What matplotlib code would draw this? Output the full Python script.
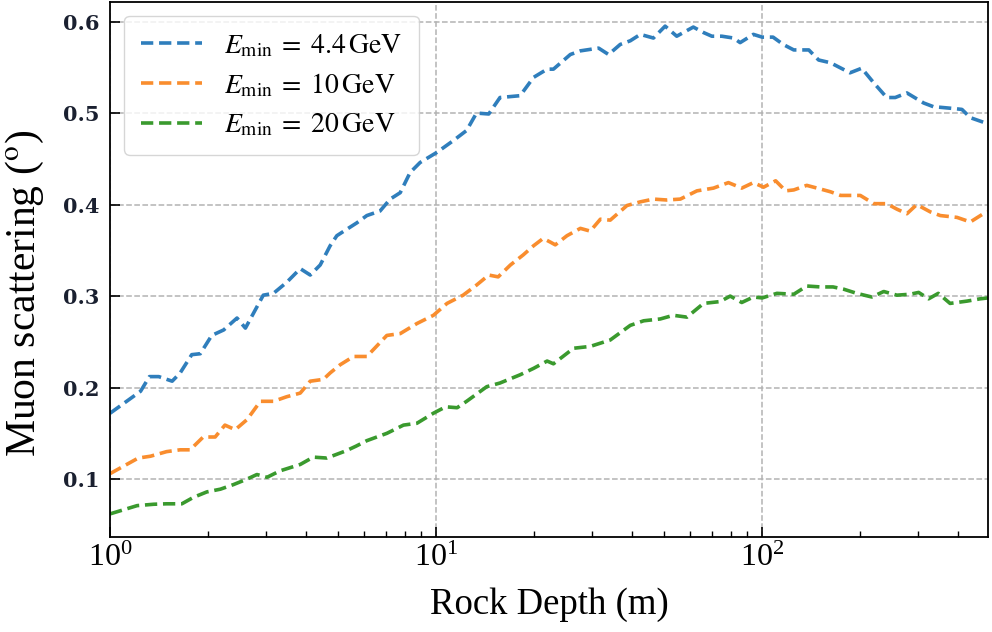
import numpy as np
import matplotlib
matplotlib.use("Agg")
import matplotlib.pyplot as plt

# rock depth (m) and muon scattering angle (deg) for each minimum energy
depth_44 = [1.0, 1.24, 1.32, 1.41, 1.55, 1.64, 1.78, 1.89, 2.05, 2.23, 2.45, 2.6,
            2.95, 3.17, 3.48, 3.83, 4.11, 4.41, 4.73, 4.96, 5.32, 5.71, 6.13, 6.73,
            7.23, 7.76, 8.32, 8.93, 10.05, 11.3, 12.4, 13.3, 14.5, 15.7, 18.1, 19.9,
            21.9, 22.9, 25.8, 27.7, 31.5, 33.8, 36.7, 39.4, 42.3, 46.4, 50.4, 54.7,
            61.5, 66.1, 70.1, 75.2, 81.7, 85.6, 94.0, 100, 108, 116, 125, 139,
            149, 162, 186, 202, 220, 241, 256, 278, 313, 335, 386, 410,
            435, 477, 493]
scat_44 = [0.172, 0.196, 0.212, 0.212, 0.207, 0.216, 0.236, 0.237, 0.257, 0.263, 0.276, 0.265,
           0.301, 0.303, 0.315, 0.330, 0.323, 0.334, 0.355, 0.366, 0.373, 0.380, 0.388, 0.393,
           0.406, 0.413, 0.435, 0.446, 0.457, 0.470, 0.481, 0.500, 0.499, 0.517, 0.519, 0.539,
           0.548, 0.548, 0.564, 0.568, 0.571, 0.564, 0.575, 0.579, 0.586, 0.582, 0.595, 0.584,
           0.594, 0.588, 0.584, 0.584, 0.582, 0.577, 0.586, 0.583, 0.583, 0.575, 0.569, 0.569,
           0.558, 0.555, 0.544, 0.549, 0.533, 0.517, 0.517, 0.522, 0.511, 0.507, 0.505, 0.504,
           0.495, 0.490, 0.489]

depth_10 = [1.0, 1.22, 1.33, 1.49, 1.64, 1.76, 1.93, 2.1, 2.25, 2.42, 2.63, 2.89,
            3.17, 3.48, 3.83, 4.11, 4.51, 4.73, 5.08, 5.58, 6.13, 7.06, 7.76, 8.73,
            9.81, 10.8, 12.1, 13.3, 14.5, 15.5, 16.9, 18.5, 19.9, 21.3, 22.4, 23.2,
            25.2, 27.7, 29.7, 31.9, 34.2, 38.5, 42.3, 46.4, 51.0, 56.1, 63.1, 70.9,
            78.8, 86.6, 94.0, 101, 110, 118, 125, 137, 151, 162, 174, 200,
            220, 241, 259, 278, 298, 328, 352, 396, 435, 477, 493]
scat_10 = [0.106, 0.123, 0.125, 0.130, 0.132, 0.132, 0.146, 0.146, 0.159, 0.154, 0.165, 0.185,
           0.185, 0.190, 0.194, 0.207, 0.209, 0.216, 0.225, 0.234, 0.234, 0.257, 0.259, 0.270,
           0.279, 0.292, 0.301, 0.312, 0.323, 0.321, 0.334, 0.345, 0.355, 0.363, 0.359, 0.356,
           0.366, 0.374, 0.371, 0.384, 0.383, 0.399, 0.403, 0.406, 0.405, 0.406, 0.415, 0.418,
           0.424, 0.418, 0.424, 0.419, 0.426, 0.415, 0.416, 0.421, 0.417, 0.414, 0.410, 0.410,
           0.401, 0.401, 0.395, 0.390, 0.400, 0.392, 0.388, 0.386, 0.381, 0.390, 0.392]

depth_20 = [1.0, 1.21, 1.36, 1.49, 1.66, 1.8, 1.98, 2.18, 2.39, 2.63, 2.82, 3.03,
            3.32, 3.83, 4.2, 4.62, 5.3, 5.68, 6.13, 7.06, 7.94, 8.73, 9.81, 10.7,
            11.6, 12.4, 14.3, 15.7, 18.1, 19.9, 21.9, 22.9, 26.4, 29.7, 34.2, 39.4,
            43.3, 48.7, 53.4, 58.8, 66.1, 74.3, 79.8, 86.6, 94.0, 100, 111, 125,
            137, 151, 165, 178, 195, 217, 236, 259, 284, 302, 324, 347,
            377, 425, 466, 493]
scat_20 = [0.062, 0.071, 0.0725, 0.073, 0.073, 0.080, 0.086, 0.089, 0.094, 0.100, 0.105, 0.102,
           0.109, 0.116, 0.124, 0.123, 0.131, 0.136, 0.142, 0.150, 0.159, 0.161, 0.172, 0.179,
           0.178, 0.185, 0.201, 0.205, 0.214, 0.221, 0.229, 0.226, 0.243, 0.245, 0.252, 0.268,
           0.273, 0.275, 0.279, 0.277, 0.292, 0.294, 0.300, 0.293, 0.299, 0.298, 0.303, 0.302,
           0.311, 0.310, 0.310, 0.3075, 0.303, 0.299, 0.305, 0.301, 0.302, 0.304, 0.297, 0.303,
           0.292, 0.2945, 0.297, 0.298]

labels = [r'$E_{\rm min}\;=\;4.4\,{\rm GeV}$',
          r'$E_{\rm min}\;=\;10\,{\rm GeV}$',
          r'$E_{\rm min}\;=\;20\,{\rm GeV}$']
colors = ['#2f7ebc', '#f98d2e', '#3a9a2e']

plt.rcParams['font.family'] = ['Liberation Serif', 'DejaVu Serif']
plt.rcParams['mathtext.fontset'] = 'stix'

fig = plt.figure(figsize=(9.92, 6.32), dpi=100)
ax = fig.add_axes([0.111, 0.150, 0.885, 0.847])

for d, s, lab, c in zip([depth_44, depth_10, depth_20], [scat_44, scat_10, scat_20], labels, colors):
    ax.plot(d, s, ls='--', lw=2.6, color=c, label=lab, dashes=(3.4, 1.6))

ax.set_xscale('log')
ax.set_xlim(1, 493)
ax.set_ylim(0.0365, 0.6215)
ax.set_yticks([0.1, 0.2, 0.3, 0.4, 0.5, 0.6])

ax.grid(True, which='major', ls='--', color='0.7', lw=1.1)
ax.tick_params(which='both', direction='in', top=False, right=False)
ax.tick_params(which='major', length=7, width=1.2)
ax.tick_params(which='minor', length=4, width=1.0)
ax.tick_params(axis='x', labelsize=23, pad=5)
ax.tick_params(axis='y', labelsize=15, pad=8)
for t in ax.get_yticklabels():
    t.set_fontfamily('DejaVu Serif')
    t.set_fontweight('bold')
    t.set_color('#1a2030')
for sp in ax.spines.values():
    sp.set_linewidth(1.3)

ax.set_xlabel('Rock Depth (m)', fontsize=26.5, labelpad=10)
ax.set_ylabel(r'Muon scattering ($^{\rm o}$)', fontsize=30)
ax.yaxis.set_label_coords(-0.0725, 0.456)

leg = ax.legend(loc='upper left', fontsize=20, handlelength=2.2, handletextpad=0.8,
                labelspacing=0.45, borderpad=0.6, fancybox=True, framealpha=0.8,
                edgecolor='0.8')

fig.savefig('out.png', dpi=100)
